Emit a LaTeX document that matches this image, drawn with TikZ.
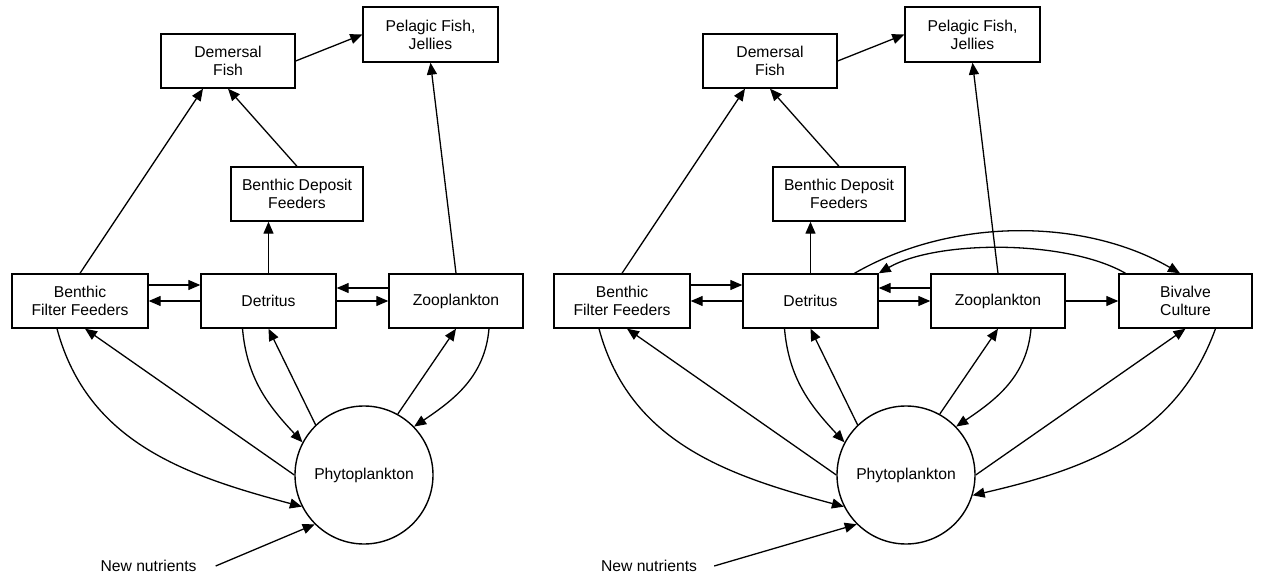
\documentclass[tikz,border=0pt]{standalone}
\usepackage{fontspec}
\setmainfont{Liberation Sans}
\usetikzlibrary{arrows.meta,calc}
\newcommand\foodpanel[1]{%
  \node[box] (#1dem) at (228,61) {Demersal\\Fish};
  \node[box,minimum width=135pt,minimum height=55pt] (#1pel) at (430.5,34.5) {Pelagic Fish,\\Jellies};
  \node[box,minimum width=132pt] (#1bdf) at (297,194) {Benthic Deposit\\Feeders};
  \node[box,minimum width=136pt] (#1bff) at (80,301) {Benthic\\Filter Feeders};
  \node[box,minimum width=135pt] (#1det) at (268.5,301) {Detritus};
  \node[box] (#1zoo) at (456,301) {Zooplankton};
  \node[circ] (#1phy) at (364,475) {Phytoplankton};
  \draw[arr] (#1dem.east) -- (#1pel.west);
  \draw[arr] (#1bff.north) -- ([xshift=-25pt]#1dem.south);
  \draw[arr] (#1bdf.north) -- (#1dem.south);
  \draw[arr] (#1det.north) -- (#1det.north |- #1bdf.south);
  \draw[arr] (#1zoo.north) -- (#1pel.south);
  \draw[arr] ([yshift=16pt]#1bff.east) -- ([yshift=16pt]#1det.west);
  \draw[arr] (#1det.west) -- (#1bff.east);
  \draw[arr] ([yshift=13pt]#1zoo.west) -- ([yshift=13pt]#1det.east);
  \draw[arr] (#1det.east) -- (#1zoo.west);
  \draw[arr] (#1phy.180) -- ([xshift=5pt]#1bff.south);
  \draw[arr] ([xshift=-23pt]#1bff.south) to[out=-75,in=165] (#1phy.207);
  \draw[arr] ([xshift=-26pt]#1det.south) to[out=-85,in=133] (#1phy.152);
  \draw[arr] (#1phy.134) -- (#1det.south);
  \draw[arr] (#1phy.61) -- (#1zoo.south);
  \draw[arr] ([xshift=33pt]#1zoo.south) to[out=-95,in=34] (#1phy.44);
}
\begin{document}
\begin{tikzpicture}[x=1pt,y=-1pt,
  box/.style={draw, line width=1.4pt, rectangle, minimum width=134pt, minimum height=54pt,
    align=center, inner sep=0pt, font=\fontsize{15.7pt}{18pt}\selectfont},
  circ/.style={draw, line width=1.4pt, circle, minimum size=138pt, inner sep=0pt,
    font=\fontsize{15.7pt}{18pt}\selectfont},
  lbl/.style={inner sep=0pt, font=\fontsize{15.7pt}{18pt}\selectfont},
  arr/.style={line width=1.3pt, -{Triangle[length=12pt,width=10pt]}}]
\useasboundingbox (0,0) rectangle (1262,577);
% left panel
\foodpanel{L}
\node[lbl] (Lnn) at (148.5,566) {New nutrients};
\draw[arr] ([xshift=19pt]Lnn.east) -- (Lphy.225);
% right panel
\begin{scope}[xshift=542pt]
\foodpanel{R}
\end{scope}
\node[box,minimum width=133pt] (Rbiv) at (1185.5,301) {Bivalve\\Culture};
\draw[arr] (Rzoo.east) -- (Rbiv.west);
\draw[arr] ([xshift=44pt]Rdet.north) to[out=30,in=150,looseness=0.88] ([xshift=-5.5pt]Rbiv.north);
\draw[arr] ([xshift=-60pt]Rbiv.north) to[out=150,in=30,looseness=0.7] (Rdet.north east);
\draw[arr] (Rphy.0) -- (Rbiv.south);
\draw[arr] ([xshift=30pt]Rbiv.south) to[out=250,in=13] (Rphy.-17);
\node[lbl] (Rnn) at (649,566) {New nutrients};
\draw[arr] ([xshift=17pt]Rnn.east) -- (Rphy.225);
\end{tikzpicture}
\end{document}
